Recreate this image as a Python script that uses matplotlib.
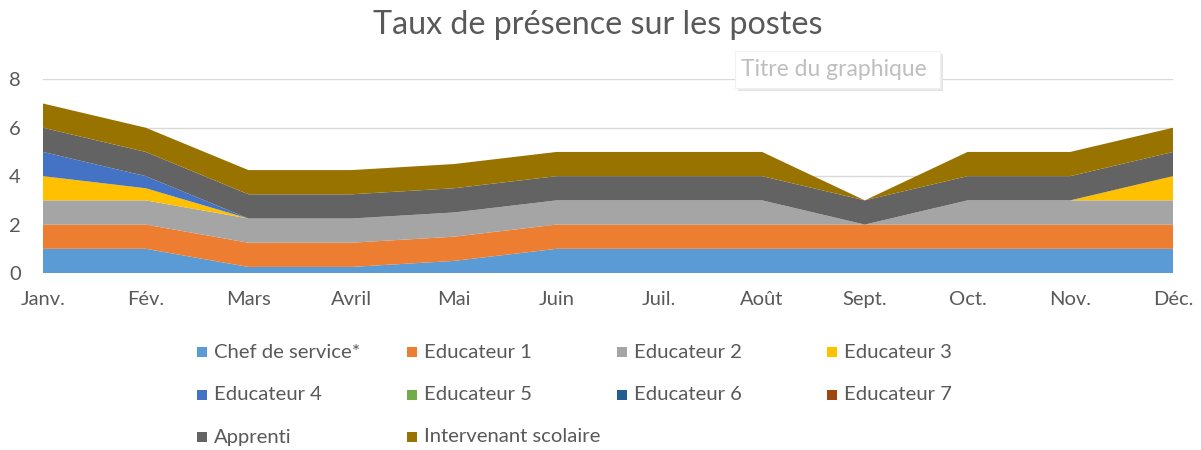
import matplotlib
matplotlib.use("Agg")
import matplotlib.pyplot as plt
from matplotlib.patches import Rectangle

months = ["Janv.", "Fév.", "Mars", "Avril", "Mai", "Juin", "Juil.", "Août",
          "Sept.", "Oct.", "Nov.", "Déc."]
series_names = ["Chef de service*", "Educateur 1", "Educateur 2", "Educateur 3",
                "Educateur 4", "Educateur 5", "Educateur 6", "Educateur 7",
                "Apprenti", "Intervenant scolaire"]
chef = [1, 1, 0.25, 0.25, 0.5, 1, 1, 1, 1, 1, 1, 1]
educ1 = [1, 1, 1, 1, 1, 1, 1, 1, 1, 1, 1, 1]
educ2 = [1, 1, 1, 1, 1, 1, 1, 1, 0, 1, 1, 1]
educ3 = [1, 0.5, 0, 0, 0, 0, 0, 0, 0, 0, 0, 1]
educ4 = [1, 0.5, 0, 0, 0, 0, 0, 0, 0, 0, 0, 0]
educ5 = [0] * 12
educ6 = [0] * 12
educ7 = [0] * 12
apprenti = [1, 1, 1, 1, 1, 1, 1, 1, 1, 1, 1, 1]
intervenant = [1, 1, 1, 1, 1, 1, 1, 1, 0, 1, 1, 1]
colors = ["#5B9BD5", "#ED7D31", "#A5A5A5", "#FFC000", "#4472C4", "#70AD47",
          "#255E91", "#9E480E", "#636363", "#997300"]
yticks = [0, 2, 4, 6, 8]

FONT = "Lato"
TXT = "#595959"
W, H = 1201, 450
fig = plt.figure(figsize=(W / 100, H / 100), dpi=100)
ax = fig.add_axes([43 / W, (H - 273) / H, (1173 - 43) / W, (273 - 79.3) / H])

x = list(range(len(months)))
values = [chef, educ1, educ2, educ3, educ4, educ5, educ6, educ7, apprenti, intervenant]
ax.stackplot(x, values, colors=colors, labels=series_names, linewidth=0)

ax.set_xlim(0, len(months) - 1)
ax.set_ylim(0, 8)
ax.set_yticks(yticks)
ax.set_xticks(x)
ax.set_xticklabels(months)
ax.grid(axis="y", color="#D9D9D9", linewidth=1)
ax.set_axisbelow(True)
for s in ax.spines.values():
    s.set_visible(False)
ax.tick_params(length=0, labelcolor=TXT, labelsize=14.5)
ax.tick_params(axis="x", pad=13)
ax.tick_params(axis="y", pad=16)
for lab in ax.get_xticklabels() + ax.get_yticklabels():
    lab.set_fontfamily(FONT)

fig.text(598 / W, 1 - 25 / H, "Taux de présence sur les postes", ha="center", va="center",
         fontsize=23.2, color=TXT, family=FONT)

# tooltip artifact
fig.patches.append(Rectangle((738 / W, 1 - 91 / H), 205 / W, 37 / H, transform=fig.transFigure,
                             facecolor="#E6E6E6", edgecolor="none", zorder=4))
fig.patches.append(Rectangle((735 / W, 1 - 88 / H), 205 / W, 37 / H, transform=fig.transFigure,
                             facecolor="white", edgecolor="#F0F0F0", linewidth=0.8, zorder=5))
fig.text(741 / W, 1 - 70 / H, "Titre du graphique", ha="left", va="center", fontsize=16.5,
         color="#BFBFBF", family=FONT, zorder=6)

# legend (row-wise, 4 columns)
for i, (name, col) in enumerate(zip(series_names, colors)):
    r, c = divmod(i, 4)
    cx = 197 + 210 * c
    cy = 352 + 42.5 * r
    fig.patches.append(Rectangle((cx / W, 1 - (cy + 5) / H), 10 / W, 10 / H,
                                 transform=fig.transFigure, facecolor=col, edgecolor="none"))
    fig.text((cx + 17) / W, 1 - cy / H, name, ha="left", va="center", fontsize=14.6,
             color=TXT, family=FONT)

fig.savefig("out.png", dpi=100)
